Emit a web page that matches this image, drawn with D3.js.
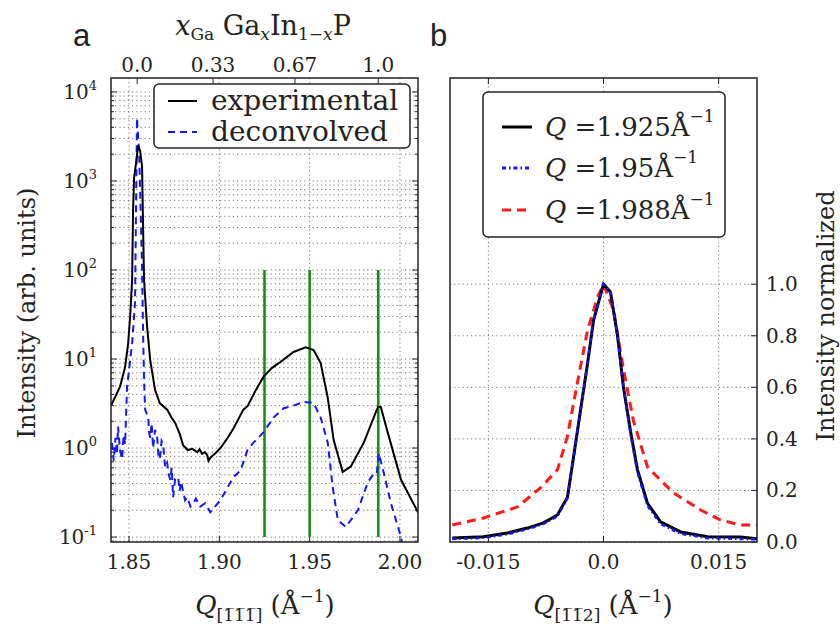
<!DOCTYPE html>
<html>
<head>
<meta charset="utf-8">
<script src="https://cdn.jsdelivr.net/npm/d3@7"></script>
<style>
  body { margin: 0; background: #fff; }
  text { font-family: "DejaVu Serif", serif; fill: #222; }
  text.panel { font-family: "Liberation Sans", Arial, sans-serif; }
</style>
</head>
<body>
<div id="chart"></div>
<script>
// ---- data ----
// panel a : experimental curve
const qExp = [1.840, 1.8425, 1.845, 1.8478, 1.8495, 1.8506, 1.8517, 1.8522, 1.8528, 1.8539, 1.855, 1.8561, 1.8572, 1.8578,
  1.8583, 1.86, 1.8617, 1.8644, 1.867, 1.8711, 1.8735, 1.8756, 1.878, 1.88, 1.8825, 1.885, 1.8878, 1.889, 1.8905, 1.892,
  1.8933, 1.894, 1.895, 1.8962, 1.8975, 1.9006, 1.904, 1.9078, 1.9133, 1.9156, 1.92, 1.9244, 1.929, 1.9339, 1.9411, 1.9478,
  1.9522, 1.9561, 1.96, 1.9633, 1.9683, 1.9728, 1.98, 1.9878, 1.9894, 1.9933, 2.0006, 2.01];
const iExp = [3.0, 3.8, 4.9, 8.1, 15, 30, 78, 440, 1100, 1600, 2500, 2200, 1450, 280,
  78, 23, 9.8, 4.5, 3.2, 2.7, 2.2, 1.9, 1.45, 1.07, 0.95, 0.98, 0.90, 0.97, 0.86, 0.9,
  0.83, 0.72, 0.78, 0.82, 0.86, 1.0, 1.25, 1.66, 2.7, 2.95, 4.4, 6.3, 7.9, 9.3, 12, 13.5,
  12.6, 9.0, 3.7, 1.23, 0.54, 0.62, 1.15, 2.9, 2.9, 1.48, 0.44, 0.19];
// panel a : deconvolved curve
const qDec = [1.8406, 1.8415, 1.8425, 1.8433, 1.8439, 1.845, 1.8461, 1.847, 1.8478, 1.8489, 1.8517, 1.8533, 1.8544, 1.8556,
  1.8561, 1.8567, 1.8572, 1.8578, 1.8583, 1.8589, 1.8606, 1.8611, 1.8617, 1.8625, 1.8633, 1.8644, 1.8656, 1.8664, 1.8672,
  1.868, 1.8689, 1.87, 1.8711, 1.872, 1.8728, 1.8736, 1.8744, 1.8755, 1.8772, 1.878, 1.8788, 1.88, 1.881, 1.8822, 1.884,
  1.8856, 1.887, 1.8894, 1.8922, 1.895, 1.9006, 1.9078, 1.9117, 1.9156, 1.9189, 1.9244, 1.93, 1.9356, 1.9411, 1.9467,
  1.9522, 1.9561, 1.96, 1.9628, 1.9656, 1.97, 1.9767, 1.9822, 1.9856, 1.9872, 1.9883, 1.9911, 1.995, 2.0006, 2.0033];
const iDec = [1.14, 0.72, 1.3, 0.85, 1.74, 0.95, 0.75, 1.4, 1.1, 4.9, 15, 43, 5100, 2000,
  800, 280, 107, 18, 5.8, 2.7, 2.2, 1.5, 1.3, 1.9, 1.0, 1.6, 1.3, 0.75, 0.8,
  1.2, 1.1, 0.6, 0.68, 0.5, 0.44, 0.6, 0.28, 0.45, 0.47, 0.33, 0.42, 0.32, 0.26, 0.28, 0.22,
  0.24, 0.27, 0.22, 0.24, 0.19, 0.26, 0.47, 0.56, 0.95, 1.15, 1.5, 2.2, 2.8, 3.0, 3.3,
  3.2, 2.2, 1.15, 0.36, 0.155, 0.13, 0.20, 0.41, 0.52, 0.52, 0.87, 0.52, 0.24, 0.1, 0.05];
const qMarks = [1.925, 1.95, 1.988];
const markTop = 100;

// panel b : normalized transverse scans
const qT = [-0.0197, -0.01565, -0.01252, -0.00991, -0.00783, -0.0060, -0.0047, -0.0039, -0.0030, -0.00209, -0.0013, 0,
  0.00091, 0.00183, 0.0026, 0.00352, 0.00443, 0.00574, 0.00743, 0.01004, 0.01357, 0.01787, 0.0201];
const i1925 = [0.016, 0.02, 0.035, 0.054, 0.074, 0.105, 0.174, 0.33, 0.51, 0.69, 0.86, 1.0,
  0.97, 0.80, 0.60, 0.43, 0.28, 0.15, 0.078, 0.039, 0.02, 0.019, 0.012];
const i1950 = [0.012, 0.016, 0.03, 0.05, 0.07, 0.10, 0.17, 0.33, 0.51, 0.69, 0.86, 1.0,
  0.97, 0.80, 0.60, 0.42, 0.27, 0.14, 0.07, 0.032, 0.015, 0.012, 0.01];
const qR = [-0.0197, -0.01565, -0.01122, -0.00822, -0.0060, -0.0047, -0.00339, -0.00209, -0.00078, 0,
  0.0013, 0.0026, 0.0039, 0.00574, 0.00913, 0.01265, 0.01526, 0.01787, 0.0201];
const i1988 = [0.066, 0.093, 0.136, 0.21, 0.28, 0.41, 0.62, 0.82, 0.95, 1.0,
  0.90, 0.67, 0.47, 0.29, 0.19, 0.124, 0.085, 0.066, 0.066];

const xGaTicks = [0.0, 0.33, 0.67, 1.0];
const xGaLabels = ["0.0", "0.33", "0.67", "1.0"];
const qTicksA = [1.85, 1.90, 1.95, 2.00];
const qTicksB = [-0.015, 0.0, 0.015];
const qLabelsB = ["-0.015", "0.0", "0.015"];
const yTicksB = [0.0, 0.2, 0.4, 0.6, 0.8, 1.0];

// ---- layout ----
const W = 840, H = 626;
const yTop = 78, yBot = 542;
const pa = {l: 111, r: 418};
const pb = {l: 450, r: 757};

const svg = d3.select("#chart").append("svg")
  .attr("width", W).attr("height", H);

const xA = d3.scaleLinear().domain([1.84, 2.01]).range([pa.l, pa.r]);
const yA = d3.scaleLog().domain([0.088, 14350]).range([yBot, yTop]);
const xB = d3.scaleLinear().domain([-0.02, 0.02]).range([pb.l, pb.r]);
const yB = d3.scaleLinear().domain([0, 1.8]).range([yBot, yTop]);

// Q(x) for GaxIn1-xP : lattice constant linear in x (Vegard)
const q0 = 1.8545, q1 = 1.988;
function qOfX(x) { return 1 / (1 / q0 + x * (1 / q1 - 1 / q0)); }

const defs = svg.append("defs");
defs.append("clipPath").attr("id", "clipA")
  .append("rect").attr("x", pa.l).attr("y", yTop).attr("width", pa.r - pa.l).attr("height", yBot - yTop);
defs.append("clipPath").attr("id", "clipB")
  .append("rect").attr("x", pb.l).attr("y", yTop).attr("width", pb.r - pb.l).attr("height", yBot - yTop);

const gridStyle = g => g.attr("stroke", "#777").attr("stroke-width", 1).attr("stroke-dasharray", "1.2,3");

// ===== panel a =====
const gA = svg.append("g");
let majA = d3.range(-1, 5).map(e => Math.pow(10, e));
let minA = [];
d3.range(-2, 5).forEach(e => d3.range(2, 10).forEach(k => {
  let v = k * Math.pow(10, e);
  if (v > yA.domain()[0] && v < yA.domain()[1]) minA.push(v);
}));

gA.selectAll(".hgrid").data(majA.concat(minA)).enter().append("line")
  .attr("x1", pa.l).attr("x2", pa.r).attr("y1", d => yA(d)).attr("y2", d => yA(d))
  .call(gridStyle);
gA.selectAll(".vgrid").data(qTicksA).enter().append("line")
  .attr("x1", d => xA(d)).attr("x2", d => xA(d)).attr("y1", yTop).attr("y2", yBot)
  .call(gridStyle);

// ticks (inside)
gA.selectAll(".ytl").data(majA).enter().append("path")
  .attr("d", d => "M" + pa.l + "," + yA(d) + "h6M" + pa.r + "," + yA(d) + "h-6")
  .attr("stroke", "#222").attr("stroke-width", 1);
gA.selectAll(".ytm").data(minA).enter().append("path")
  .attr("d", d => "M" + pa.l + "," + yA(d) + "h3M" + pa.r + "," + yA(d) + "h-3")
  .attr("stroke", "#222").attr("stroke-width", 1);
gA.selectAll(".xt").data(qTicksA).enter().append("path")
  .attr("d", d => "M" + xA(d) + "," + yBot + "v-6")
  .attr("stroke", "#222").attr("stroke-width", 1);
gA.selectAll(".xtt").data(xGaTicks).enter().append("path")
  .attr("d", d => "M" + xA(qOfX(d)) + "," + yTop + "v6")
  .attr("stroke", "#222").attr("stroke-width", 1);

const lineA = (qs, vs) => d3.line().x((d, i) => xA(qs[i])).y(d => yA(d))(vs);

gA.append("g").attr("clip-path", "url(#clipA)").selectAll("line.mark").data(qMarks).enter().append("line")
  .attr("x1", d => xA(d)).attr("x2", d => xA(d))
  .attr("y1", yA(0.1)).attr("y2", yA(markTop))
  .attr("stroke", "#138a13").attr("stroke-width", 2.5);

const clA = gA.append("g").attr("clip-path", "url(#clipA)");
clA.append("path").attr("d", lineA(qDec, iDec))
  .attr("fill", "none").attr("stroke", "#1515ff").attr("stroke-width", 2)
  .attr("stroke-dasharray", "7,5");
clA.append("path").attr("d", lineA(qExp, iExp))
  .attr("fill", "none").attr("stroke", "#000").attr("stroke-width", 2);

gA.append("rect").attr("x", pa.l).attr("y", yTop).attr("width", pa.r - pa.l).attr("height", yBot - yTop)
  .attr("fill", "none").attr("stroke", "#222").attr("stroke-width", 1.5);

// y tick labels 10^n
gA.selectAll(".ylab").data(majA).enter().append("text")
  .attr("x", 97).attr("y", d => yA(d) + 7).attr("text-anchor", "end").attr("font-size", 20)
  .each(function(d) {
    let t = d3.select(this);
    let e = Math.round(Math.log10(d));
    t.append("tspan").text("10");
    t.append("tspan").attr("dy", -9).attr("font-size", 13).text(e < 0 ? "-" + (-e) : e);
  });
gA.selectAll(".xlab").data(qTicksA).enter().append("text")
  .attr("x", d => xA(d)).attr("y", 569).attr("text-anchor", "middle").attr("font-size", 20)
  .text(d => d.toFixed(2));
gA.selectAll(".tlab").data(xGaTicks).enter().append("text")
  .attr("x", d => xA(qOfX(d))).attr("y", 72).attr("text-anchor", "middle").attr("font-size", 20)
  .text((d, i) => xGaLabels[i]);

// top title x_Ga Ga_x In_{1-x} P
let tt = svg.append("text").attr("x", 263).attr("y", 35).attr("text-anchor", "middle").attr("font-size", 27);
tt.append("tspan").attr("font-style", "italic").text("x");
tt.append("tspan").attr("font-size", 17).attr("dy", 5).text("Ga");
tt.append("tspan").attr("dy", -5).text(" Ga");
tt.append("tspan").attr("font-size", 17).attr("dy", 5).attr("font-style", "italic").text("x");
tt.append("tspan").attr("dy", -5).text("In");
tt.append("tspan").attr("font-size", 17).attr("dy", 5).text("1\u2212");
tt.append("tspan").attr("font-size", 17).attr("font-style", "italic").text("x");
tt.append("tspan").attr("dy", -5).text("P");

// axis titles
function qTitle(x, idx) {
  let t = svg.append("text").attr("x", x).attr("y", 614).attr("text-anchor", "middle").attr("font-size", 26);
  t.append("tspan").attr("font-style", "italic").text("Q");
  t.append("tspan").attr("font-size", 17).attr("dy", 7).text(idx);
  t.append("tspan").attr("dy", -7).text(" (\u00c5");
  t.append("tspan").attr("font-size", 17).attr("dy", -12).text("\u22121");
  t.append("tspan").attr("dy", 12).text(")");
}
qTitle(265, "[1\u03051\u03051\u0305]");
qTitle(603, "[1\u03051\u03052]");

svg.append("text").attr("transform", "translate(35,313) rotate(-90)")
  .attr("text-anchor", "middle").attr("font-size", 24).text("Intensity (arb. units)");
svg.append("text").attr("transform", "translate(834,316) rotate(-90)")
  .attr("text-anchor", "middle").attr("font-size", 24).text("Intensity normalized");

svg.append("text").attr("class", "panel").attr("x", 73).attr("y", 46).attr("font-size", 31).text("a");
svg.append("text").attr("class", "panel").attr("x", 430).attr("y", 46).attr("font-size", 31).text("b");

// legend a
const legA = svg.append("g");
legA.append("rect").attr("x", 154).attr("y", 84).attr("width", 256).attr("height", 64).attr("rx", 5)
  .attr("fill", "#fff").attr("stroke", "#222").attr("stroke-width", 1.5);
legA.append("line").attr("x1", 168).attr("x2", 197).attr("y1", 101).attr("y2", 101)
  .attr("stroke", "#000").attr("stroke-width", 2);
legA.append("line").attr("x1", 168).attr("x2", 197).attr("y1", 132).attr("y2", 132)
  .attr("stroke", "#1515ff").attr("stroke-width", 2).attr("stroke-dasharray", "7,5");
legA.append("text").attr("x", 211).attr("y", 110).attr("font-size", 28).text("experimental");
legA.append("text").attr("x", 211).attr("y", 141).attr("font-size", 28).text("deconvolved");

// ===== panel b =====
const gB = svg.append("g");
gB.selectAll(".hgrid").data(yTicksB).enter().append("line")
  .attr("x1", pb.l).attr("x2", pb.r).attr("y1", d => yB(d)).attr("y2", d => yB(d))
  .call(gridStyle);
gB.selectAll(".vgrid").data(qTicksB).enter().append("line")
  .attr("x1", d => xB(d)).attr("x2", d => xB(d)).attr("y1", yTop).attr("y2", yBot)
  .call(gridStyle);
gB.selectAll(".xt").data(qTicksB).enter().append("path")
  .attr("d", d => "M" + xB(d) + "," + yBot + "v-6M" + xB(d) + "," + yTop + "v6")
  .attr("stroke", "#222").attr("stroke-width", 1);
gB.selectAll(".yt").data(yTicksB).enter().append("path")
  .attr("d", d => "M" + pb.r + "," + yB(d) + "h-6")
  .attr("stroke", "#222").attr("stroke-width", 1);

const lineB = (qs, vs) => d3.line().x((d, i) => xB(qs[i])).y(d => yB(d))(vs);
const clB = gB.append("g").attr("clip-path", "url(#clipB)");
clB.append("path").attr("d", lineB(qR, i1988))
  .attr("fill", "none").attr("stroke", "#ff1a1a").attr("stroke-width", 3).attr("stroke-dasharray", "9,6");
clB.append("path").attr("d", lineB(qT, i1925))
  .attr("fill", "none").attr("stroke", "#000").attr("stroke-width", 3);
clB.append("path").attr("d", lineB(qT, i1950))
  .attr("fill", "none").attr("stroke", "#1515ff").attr("stroke-width", 2.5).attr("stroke-dasharray", "4,3,1.5,3");

gB.append("rect").attr("x", pb.l).attr("y", yTop).attr("width", pb.r - pb.l).attr("height", yBot - yTop)
  .attr("fill", "none").attr("stroke", "#222").attr("stroke-width", 1.5);

gB.selectAll(".ylab").data(yTicksB).enter().append("text")
  .attr("x", 766).attr("y", d => yB(d) + 7).attr("font-size", 20).text(d => d.toFixed(1));
gB.selectAll(".xlab").data(qTicksB).enter().append("text")
  .attr("x", d => xB(d)).attr("y", 569).attr("text-anchor", "middle").attr("font-size", 20)
  .text((d, i) => qLabelsB[i]);

// legend b
const legB = svg.append("g");
legB.append("rect").attr("x", 483).attr("y", 92).attr("width", 242).attr("height", 145).attr("rx", 5)
  .attr("fill", "#fff").attr("stroke", "#222").attr("stroke-width", 1.5);
const legRows = [
  {label: "1.925", color: "#000", dash: null, y: 127},
  {label: "1.95", color: "#1515ff", dash: "4,3,1.5,3", y: 168},
  {label: "1.988", color: "#ff1a1a", dash: "9,6", y: 210}
];
legRows.forEach(r => {
  legB.append("line").attr("x1", 502).attr("x2", 532).attr("y1", r.y).attr("y2", r.y)
    .attr("stroke", r.color).attr("stroke-width", 3).attr("stroke-dasharray", r.dash);
  let t = legB.append("text").attr("x", 545).attr("y", r.y + 9).attr("font-size", 26);
  t.append("tspan").attr("font-style", "italic").text("Q");
  t.append("tspan").text(" =" + r.label + "\u00c5");
  t.append("tspan").attr("font-size", 17).attr("dy", -14).text("\u22121");
});
</script>
</body>
</html>
